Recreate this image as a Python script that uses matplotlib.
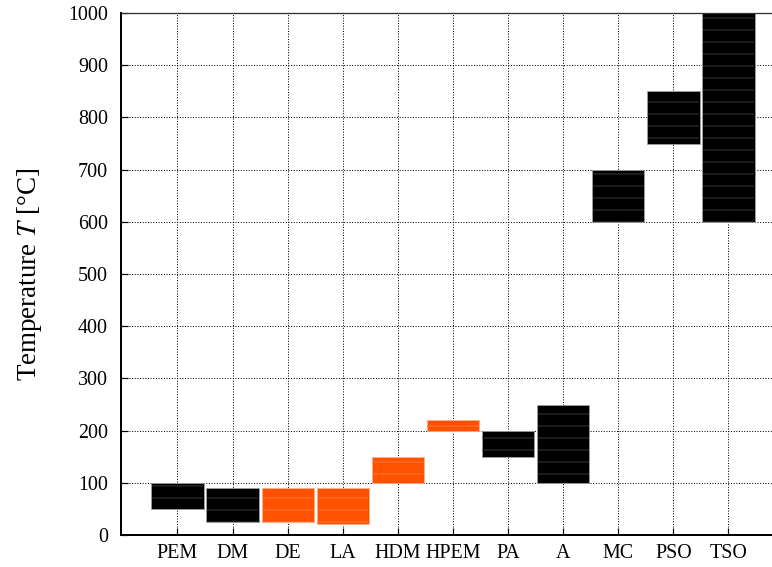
import numpy as np
import matplotlib
matplotlib.use('Agg')
import matplotlib.pyplot as plt

plt.rcParams['font.family'] = ['Liberation Serif', 'DejaVu Serif']
plt.rcParams['mathtext.fontset'] = 'stix'
plt.rcParams['hatch.linewidth'] = 0.9

# temperature range of each process
procesos = ['PEM', 'DM', 'DE', 'LA', 'HDM', 'HPEM', 'PA', 'A', 'MC', 'PSO', 'TSO']
t_min = [50, 25, 25, 22, 100, 200, 150, 100, 600, 750, 600]
t_max = [100, 90, 90, 90, 150, 220, 200, 250, 700, 850, 1000]
resaltado = [False, False, True, True, True, True, False, False, False, False, False]

naranja = '#ff5200'
relleno = [naranja if r else 'black' for r in resaltado]
bordes = ['#ffb090' if r else '#a0a0a0' for r in resaltado]
rayas = ['#ff7a40' if r else '#3c3c3c' for r in resaltado]

x = np.arange(len(procesos))
alto = np.array(t_max) - np.array(t_min)

fig = plt.figure(figsize=(772 / 72, 567 / 72), dpi=72)
ax = fig.add_axes([121 / 772, 1 - 535 / 567, 1 - 121 / 772, (535 - 13) / 567])

ax.bar(x, alto, bottom=t_min, width=0.95, color=relleno,
       edgecolor=bordes, linewidth=0.8, zorder=2)
# thin horizontal stripes inside the boxes
for xi, h, b, c in zip(x, alto, t_min, rayas):
    ax.bar(xi, h, bottom=b, width=0.93, facecolor='none',
           edgecolor=c, linewidth=0, hatch='-', zorder=3)

ax.set_xlim(-1.025, 10.79)
ax.set_ylim(0, 1000)
ax.set_yticks(np.arange(0, 1001, 100))
ax.set_xticks(x)
ax.set_xticklabels(procesos)

ax.grid(True, color='black', linestyle=':', linewidth=1.0, zorder=0)
ax.set_axisbelow(True)

ax.tick_params(direction='in', length=7, width=1.2, labelsize=20)
ax.tick_params(axis='x', pad=9)
ax.tick_params(axis='y', pad=13)
ax.spines['right'].set_visible(False)
ax.spines['left'].set_linewidth(2)
ax.spines['bottom'].set_linewidth(2)
ax.spines['top'].set_linewidth(1.3)
ax.spines['top'].set_color('#333333')

ax.set_ylabel('Temperature $T$ [°C]', fontsize=27, labelpad=24)

fig.savefig('out.png', dpi=72)
